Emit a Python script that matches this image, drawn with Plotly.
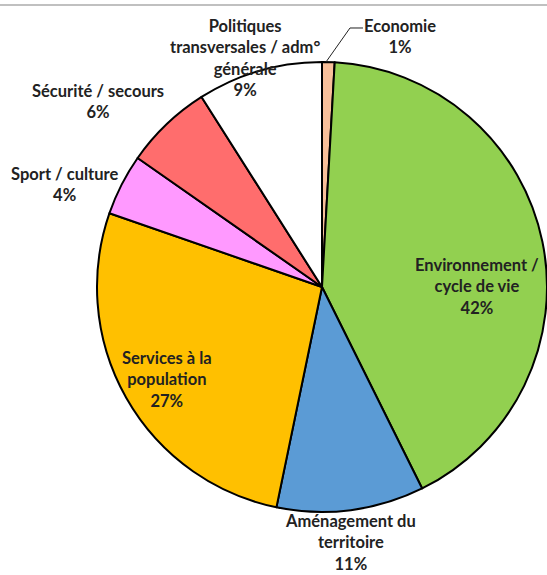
import plotly.graph_objects as go

# ---- data ----
labels = ["Economie", "Environnement /<br>cycle de vie", "Aménagement du<br>territoire",
          "Services à la<br>population", "Sport / culture", "Sécurité / secours",
          "Politiques<br>transversales / adm°<br>générale"]
values = [0.9, 41.8, 10.6, 27.1, 4.4, 6.3, 9.0]
colors = ["#F8BF9A", "#92D050", "#5B9BD5", "#FFC000", "#FF99FF", "#FF6D6D", "#FFFFFF"]

# label block centres in pixels (x, y)
label_pos = [(400, 37), (477, 286), (350, 542), (167, 379), (64, 184), (98, 101), (245, 58)]

W, H = 547, 575
L, R, T, B = 97, 0, 61, 62
PW, PH = W - L - R, H - T - B

def px(x):
    return (x - L) / PW

def py(y):
    return (H - B - y) / PH

total = sum(values)
fig = go.Figure(go.Pie(
    labels=labels, values=values, sort=False, direction="clockwise", rotation=0,
    marker=dict(colors=colors, line=dict(color="#000000", width=2)),
    textinfo="none", hoverinfo="label+percent", showlegend=False,
))

annotations = []
for lab, v, (x, y) in zip(labels, values, label_pos):
    pct = round(v / total * 100)
    annotations.append(dict(
        x=px(x), y=py(y), xref="paper", yref="paper", showarrow=False,
        text="<b>%s<br>%d%%</b>" % (lab, pct), align="center",
        xanchor="center", yanchor="middle",
        font=dict(family="Lato", size=16.5, color="#222222"),
    ))

shapes = [
    # leader line for Economie
    dict(type="path", xref="paper", yref="paper",
         path="M %f %f L %f %f L %f %f" % (px(326), py(62), px(350), py(28), px(363), py(28)),
         line=dict(color="#222222", width=1)),
    # grey top rule
    dict(type="line", xref="paper", yref="paper", x0=px(0), x1=px(W), y0=py(5), y1=py(5),
         line=dict(color="#C0C0C0", width=2)),
]

fig.update_layout(
    width=W, height=H, margin=dict(l=L, r=R, t=T, b=B),
    paper_bgcolor="white", plot_bgcolor="white",
    annotations=annotations, shapes=shapes,
)
fig.write_html("out.html", config={"displayModeBar": False},
               post_script="document.body.style.margin='0';")
